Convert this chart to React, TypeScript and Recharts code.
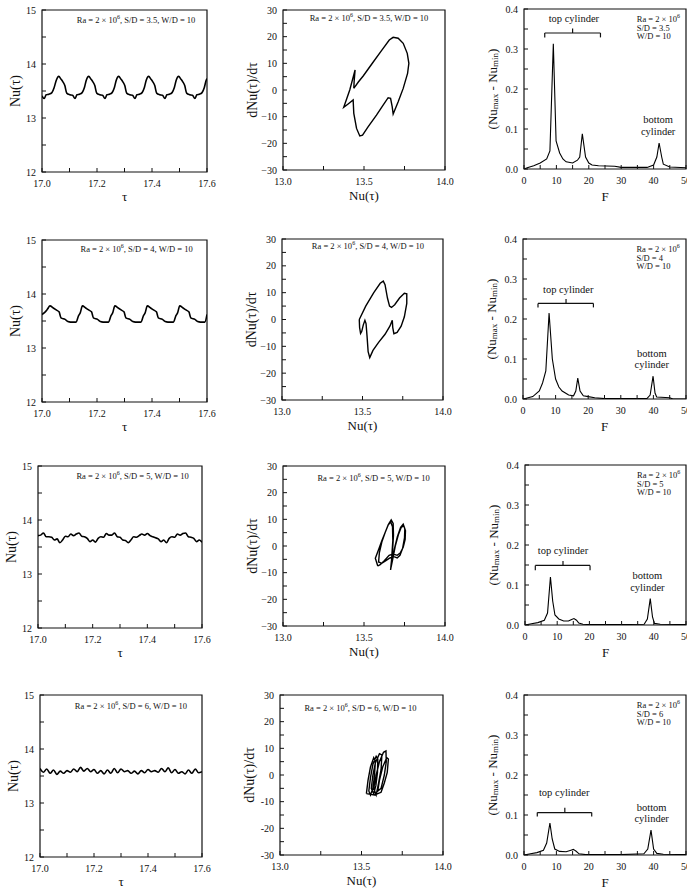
import React from 'react';
import {
  LineChart,
  Line,
  XAxis,
  YAxis,
  ReferenceArea,
  ReferenceLine,
  ReferenceDot,
} from 'recharts';

const FONT = '"Liberation Serif", "DejaVu Serif", serif';
const INK = '#111';

// ---------- axis ticks ----------
const tauTicks = [17.0, 17.1, 17.2, 17.3, 17.4, 17.5, 17.6];
const nuTicks = [12, 12.5, 13, 13.5, 14, 14.5, 15];
const phaseXTicks = [13.0, 13.25, 13.5, 13.75, 14.0];
const phaseYTicks = [-30, -25, -20, -15, -10, -5, 0, 5, 10, 15, 20, 25, 30];
const freqTicks = [0, 5, 10, 15, 20, 25, 30, 35, 40, 45, 50];
const ampTicks = [0, 0.05, 0.1, 0.15, 0.2, 0.25, 0.3, 0.35, 0.4];

// ---------- Nu(tau) time series  [tau, Nu] ----------
const nuSD35 = [
  [17.0, 13.41], [17.008, 13.36], [17.015, 13.43], [17.025, 13.44], [17.036, 13.47], [17.044, 13.56],
  [17.052, 13.7], [17.061, 13.77], [17.069, 13.72], [17.076, 13.67], [17.083, 13.6], [17.09, 13.46],
  [17.101, 13.43], [17.111, 13.42], [17.12, 13.36], [17.127, 13.43], [17.136, 13.44], [17.146, 13.47],
  [17.154, 13.56], [17.161, 13.7], [17.17, 13.77], [17.178, 13.72], [17.185, 13.67], [17.192, 13.6],
  [17.199, 13.46], [17.21, 13.43], [17.22, 13.42], [17.229, 13.36], [17.236, 13.43], [17.245, 13.44],
  [17.255, 13.47], [17.263, 13.56], [17.27, 13.7], [17.279, 13.77], [17.287, 13.72], [17.294, 13.67],
  [17.301, 13.6], [17.308, 13.46], [17.319, 13.43], [17.329, 13.42], [17.338, 13.36], [17.345, 13.43],
  [17.354, 13.44], [17.364, 13.47], [17.372, 13.56], [17.379, 13.7], [17.388, 13.77], [17.396, 13.72],
  [17.403, 13.67], [17.41, 13.6], [17.417, 13.46], [17.428, 13.43], [17.438, 13.42], [17.447, 13.36],
  [17.454, 13.43], [17.463, 13.44], [17.473, 13.47], [17.481, 13.56], [17.488, 13.7], [17.497, 13.77],
  [17.505, 13.72], [17.512, 13.67], [17.519, 13.6], [17.526, 13.46], [17.537, 13.43], [17.547, 13.42],
  [17.556, 13.36], [17.563, 13.43], [17.572, 13.44], [17.582, 13.47], [17.59, 13.56], [17.597, 13.7],
  [17.6, 13.73],
];

const nuSD4 = [
  [17.0, 13.62], [17.01, 13.66], [17.02, 13.72], [17.029, 13.78], [17.041, 13.74], [17.053, 13.7],
  [17.062, 13.67], [17.069, 13.56], [17.084, 13.53], [17.094, 13.49], [17.104, 13.48], [17.124, 13.48],
  [17.133, 13.6], [17.139, 13.65], [17.147, 13.78], [17.159, 13.74], [17.171, 13.7], [17.18, 13.67],
  [17.187, 13.56], [17.202, 13.53], [17.212, 13.49], [17.222, 13.48], [17.242, 13.48], [17.251, 13.6],
  [17.257, 13.65], [17.265, 13.78], [17.277, 13.74], [17.289, 13.7], [17.298, 13.67], [17.305, 13.56],
  [17.32, 13.53], [17.33, 13.49], [17.34, 13.48], [17.36, 13.48], [17.369, 13.6], [17.375, 13.65],
  [17.383, 13.78], [17.395, 13.74], [17.407, 13.7], [17.416, 13.67], [17.423, 13.56], [17.438, 13.53],
  [17.448, 13.49], [17.458, 13.48], [17.478, 13.48], [17.487, 13.6], [17.493, 13.65], [17.501, 13.78],
  [17.513, 13.74], [17.525, 13.7], [17.534, 13.67], [17.541, 13.56], [17.556, 13.53], [17.566, 13.49],
  [17.576, 13.48], [17.592, 13.48], [17.6, 13.62],
];

const nuSD5 = [
  [17.0, 13.71], [17.01, 13.72], [17.02, 13.76], [17.03, 13.69], [17.04, 13.69], [17.05, 13.68],
  [17.06, 13.63], [17.07, 13.65], [17.08, 13.58], [17.09, 13.63], [17.1, 13.7], [17.11, 13.69],
  [17.12, 13.74], [17.13, 13.71], [17.14, 13.74], [17.15, 13.76], [17.16, 13.7], [17.17, 13.69],
  [17.18, 13.66], [17.19, 13.6], [17.2, 13.63], [17.21, 13.59], [17.22, 13.66], [17.23, 13.69],
  [17.24, 13.68], [17.25, 13.75], [17.26, 13.72], [17.27, 13.72], [17.28, 13.76], [17.29, 13.69],
  [17.3, 13.68], [17.31, 13.63], [17.32, 13.62], [17.33, 13.58], [17.34, 13.63], [17.35, 13.69],
  [17.36, 13.68], [17.37, 13.71], [17.38, 13.74], [17.39, 13.72], [17.4, 13.75], [17.41, 13.71],
  [17.42, 13.69], [17.43, 13.67], [17.44, 13.65], [17.45, 13.6], [17.46, 13.63], [17.47, 13.58],
  [17.48, 13.66], [17.49, 13.69], [17.5, 13.68], [17.51, 13.74], [17.52, 13.72], [17.53, 13.75],
  [17.54, 13.76], [17.55, 13.69], [17.56, 13.68], [17.57, 13.66], [17.58, 13.6], [17.59, 13.63],
  [17.6, 13.59],
];

const nuSD6 = [
  [17.0, 13.64], [17.0125, 13.57], [17.025, 13.63], [17.0375, 13.55], [17.05, 13.61], [17.0625, 13.53],
  [17.075, 13.59], [17.0875, 13.55], [17.1, 13.6], [17.1125, 13.57], [17.125, 13.63], [17.1375, 13.58],
  [17.15, 13.66], [17.1625, 13.59], [17.175, 13.64], [17.1875, 13.58], [17.2, 13.62], [17.2125, 13.55],
  [17.225, 13.6], [17.2375, 13.54], [17.25, 13.61], [17.2625, 13.55], [17.275, 13.64], [17.2875, 13.56],
  [17.3, 13.63], [17.3125, 13.58], [17.325, 13.6], [17.3375, 13.55], [17.35, 13.59], [17.3625, 13.54],
  [17.375, 13.6], [17.3875, 13.56], [17.4, 13.62], [17.4125, 13.58], [17.425, 13.6], [17.4375, 13.57],
  [17.45, 13.64], [17.4625, 13.58], [17.475, 13.65], [17.4875, 13.56], [17.5, 13.62], [17.5125, 13.55],
  [17.525, 13.58], [17.5375, 13.54], [17.55, 13.61], [17.5625, 13.55], [17.575, 13.63], [17.5875, 13.56],
  [17.6, 13.58],
];

// ---------- phase portraits  [Nu, dNu/dtau] ----------
const phaseSD35 = [
  [13.437, 0.6], [13.465, 3], [13.495, 5.25], [13.557, 10.5], [13.608, 14.75], [13.656, 18.75],
  [13.68, 19.75], [13.711, 19.4], [13.742, 17.5], [13.767, 13.75], [13.777, 10], [13.769, 6.25],
  [13.742, 0.6], [13.711, -4.4], [13.68, -9], [13.674, -6.25], [13.664, -3.1], [13.649, -2.9],
  [13.619, -5.6], [13.577, -9.4], [13.526, -13.75], [13.491, -16.9], [13.474, -17.25], [13.454, -14.4],
  [13.437, -8.75], [13.433, -3.75], [13.402, -5.25], [13.375, -6.5], [13.412, 0], [13.445, 7.5],
  [13.439, 3.1], [13.437, 0.6],
];

const phaseSD4 = [
  [13.48, 0], [13.52, 5], [13.57, 10], [13.61, 13.5], [13.629, 14.3], [13.64, 13], [13.655, 8],
  [13.668, 5], [13.68, 4.5], [13.7, 5.5], [13.73, 8], [13.76, 9.8], [13.775, 9.6], [13.775, 6],
  [13.76, 1], [13.74, -2.5], [13.715, -4.8], [13.695, -5.3], [13.688, -3], [13.685, -0.3],
  [13.67, -2.5], [13.64, -5.5], [13.6, -8.5], [13.565, -11.5], [13.545, -14.2], [13.535, -12],
  [13.528, -6], [13.522, -1.5], [13.515, -0.3], [13.505, -2], [13.495, -4.5], [13.488, -5.2],
  [13.482, -3], [13.48, 0],
];

const phaseSD5 = [
  [13.585, -7.5], [13.57, -4.6], [13.592, -1], [13.61, 2], [13.63, 5], [13.65, 8], [13.668, 9.8],
  [13.68, 8.5], [13.682, 4], [13.676, -2], [13.668, -6.5], [13.664, -9], [13.672, -6], [13.688, -1],
  [13.706, 3.5], [13.726, 7], [13.742, 8.2], [13.752, 6.5], [13.75, 3], [13.738, -1], [13.722, -3.5],
  [13.705, -4.5], [13.685, -4], [13.66, -4.5], [13.635, -5.5], [13.61, -6.5], [13.59, -6],
  [13.595, -2.5], [13.61, 1.5], [13.63, 5], [13.65, 8], [13.665, 9], [13.676, 7.2], [13.678, 2],
  [13.672, -3.5], [13.667, -8], [13.677, -5], [13.693, 0], [13.712, 4.2], [13.73, 7], [13.745, 7.6],
  [13.756, 5.8], [13.754, 2.5], [13.742, -0.5], [13.725, -2.5], [13.705, -3.5], [13.68, -3],
  [13.655, -3.5], [13.625, -5.5], [13.6, -7], [13.585, -7.5],
];

const phaseSD6 = [
  [13.53, -7], [13.54, -2], [13.555, 3], [13.575, 6.5], [13.585, 5], [13.58, 0], [13.57, -5], [13.555, -7.5],
  [13.545, -6], [13.555, -1], [13.57, 4], [13.59, 7], [13.6, 6], [13.598, 1], [13.588, -4], [13.575, -7],
  [13.56, -5], [13.57, 0], [13.585, 4.5], [13.61, 8], [13.625, 7.5], [13.62, 2], [13.605, -3], [13.59, -7.5],
  [13.575, -5], [13.59, 0], [13.61, 5], [13.635, 8.5], [13.65, 9], [13.652, 5], [13.64, 0], [13.62, -5],
  [13.6, -6], [13.61, -2], [13.63, 3], [13.655, 6.5], [13.665, 6], [13.658, 1], [13.64, -3], [13.62, -6.5],
  [13.58, -7.5], [13.53, -7],
];

// ---------- amplitude spectra  [F, Numax - Numin] ----------
const specSD35 = [
  [0, 0], [1, 0.003], [3, 0.008], [5, 0.015], [7, 0.025], [8, 0.045], [9.05, 0.313], [9.9, 0.07],
  [11, 0.04], [12, 0.025], [13, 0.018], [15, 0.015], [16.5, 0.022], [17.2, 0.03], [18, 0.088],
  [19, 0.03], [20, 0.015], [21, 0.01], [23, 0.008], [28, 0.007], [30, 0.004], [38, 0.004],
  [40, 0.01], [41, 0.03], [41.7, 0.065], [42.5, 0.03], [43, 0.012], [45, 0.005], [50, 0.003],
];

const specSD4 = [
  [0, 0], [1, 0.002], [3, 0.006], [5, 0.02], [6, 0.04], [7, 0.07], [8, 0.215], [9, 0.1], [10, 0.05],
  [11, 0.03], [12, 0.02], [14, 0.01], [15.5, 0.008], [16.2, 0.02], [16.8, 0.052], [17.5, 0.02],
  [18.5, 0.008], [20, 0.006], [22, 0.003], [25, 0.001], [30, 0.001], [38, 0.001], [39, 0.01],
  [39.9, 0.057], [40.5, 0.015], [41, 0.005], [45, 0.003], [46, 0.0], [50, 0.0],
];

const specSD5 = [
  [0, 0], [2, 0.003], [4, 0.006], [6, 0.012], [7, 0.03], [7.9, 0.12], [8.6, 0.06], [9.3, 0.025],
  [10.5, 0.015], [12, 0.01], [13.5, 0.01], [14.5, 0.014], [15.2, 0.016], [16, 0.012], [16.7, 0.005],
  [18, 0.002], [20, 0.001], [30, 0.001], [37, 0.002], [38, 0.015], [38.9, 0.066], [39.6, 0.02],
  [40.2, 0.004], [42, 0.002], [50, 0.001],
];

const specSD6 = [
  [0, 0], [2, 0.003], [4, 0.006], [6, 0.012], [7, 0.03], [8, 0.08], [8.7, 0.04], [9.5, 0.015],
  [11, 0.009], [13, 0.008], [14.5, 0.012], [15.2, 0.014], [16, 0.01], [17, 0.003], [19, 0.001],
  [30, 0.001], [37, 0.003], [38.2, 0.015], [39.2, 0.062], [40, 0.015], [41, 0.004], [43, 0.002],
  [50, 0.001],
];

const sdValues = ['3.5', '4', '5', '6'];

// brace and text anchors in data units of the spectrum panels
const braces = [
  { from: 6.4, to: 23.6, mid: 15.0, y: 0.34, foot: 0.329, tip: 0.351, textX: 15.4, textY: 0.376, botX: 41.4, botY: 0.125 },
  { from: 4.6, to: 21.6, mid: 13.2, y: 0.239, foot: 0.229, tip: 0.25, textX: 13.9, textY: 0.275, botX: 39.5, botY: 0.116 },
  { from: 3.2, to: 20.2, mid: 11.8, y: 0.149, foot: 0.137, tip: 0.16, textX: 11.8, textY: 0.186, botX: 38.0, botY: 0.124 },
  { from: 4.1, to: 20.9, mid: 12.6, y: 0.106, foot: 0.096, tip: 0.118, textX: 12.4, textY: 0.157, botX: 39.4, botY: 0.121 },
];

const toPts = (arr: number[][]) => arr.map(([x, y]) => ({ x, y }));

const YW = 46;
const MT = 6;
const MR = 22;
const XH = 38;

type PanelProps = {
  box: [number, number, number, number];
  data: number[][];
  xDomain: [number, number];
  yDomain: [number, number];
  xTicks: number[];
  yTicks: number[];
  xFmt: (v: number) => string;
  yFmt: (v: number) => string;
  xTitle: React.ReactNode;
  yTitle: React.ReactNode;
  xTitleOffset: number;
  yTitleOffset: number;
  titleSize: number;
  curve: 'monotone' | 'linear';
  strokeWidth: number;
  children?: React.ReactNode;
};

const Panel: React.FC<PanelProps> = (p) => {
  const [x0, y0, x1, y1] = p.box;
  const pw = x1 - x0;
  const ph = y1 - y0;
  const W = YW + pw + MR;
  const H = MT + ph + XH;

  const xTick = (t: any) => (
    <g>
      <line x1={t.x} x2={t.x} y1={t.y} y2={t.y - 4} stroke={INK} strokeWidth={1} />
      {t.index % 2 === 0 && (
        <text x={t.x} y={t.y + 15} textAnchor="middle" fontSize={10} fontFamily={FONT} fill={INK}>
          {p.xFmt(t.payload.value)}
        </text>
      )}
    </g>
  );
  const yTick = (t: any) => (
    <g>
      <line x1={t.x} x2={t.x + 4} y1={t.y} y2={t.y} stroke={INK} strokeWidth={1} />
      {t.index % 2 === 0 && (
        <text x={t.x - 6} y={t.y + 3.5} textAnchor="end" fontSize={10} fontFamily={FONT} fill={INK}>
          {p.yFmt(t.payload.value)}
        </text>
      )}
    </g>
  );

  const cx = YW - p.yTitleOffset;
  const cy = MT + ph / 2;

  return (
    <div style={{ position: 'absolute', left: x0 - YW, top: y0 - MT, width: W, height: H }}>
      <LineChart width={W} height={H} margin={{ top: MT, right: MR, left: 0, bottom: 0 }} data={toPts(p.data)}>
        <XAxis
          type="number"
          dataKey="x"
          domain={p.xDomain}
          ticks={p.xTicks}
          interval={0}
          allowDataOverflow
          axisLine={false}
          tickLine={false}
          tickSize={0}
          tickMargin={0}
          height={XH}
          tick={xTick}
          label={{
            content: () => (
              <text x={YW + pw / 2} y={MT + ph + p.xTitleOffset} textAnchor="middle" dominantBaseline="central"
                fontSize={13} fontFamily={FONT} fill={INK}>
                {p.xTitle}
              </text>
            ),
          }}
        />
        <YAxis
          type="number"
          domain={p.yDomain}
          ticks={p.yTicks}
          interval={0}
          allowDataOverflow
          axisLine={false}
          tickLine={false}
          tickSize={0}
          tickMargin={0}
          width={YW}
          tick={yTick}
          label={{
            content: () => (
              <text x={cx} y={cy} transform={`rotate(-90 ${cx} ${cy})`} textAnchor="middle" dominantBaseline="central"
                fontSize={p.titleSize} fontFamily={FONT} fill={INK}>
                {p.yTitle}
              </text>
            ),
          }}
        />
        <ReferenceArea
          x1={p.xDomain[0]}
          x2={p.xDomain[1]}
          y1={p.yDomain[0]}
          y2={p.yDomain[1]}
          fill="none"
          fillOpacity={0}
          stroke={INK}
          strokeWidth={1.2}
          ifOverflow="visible"
        />
        <Line
          dataKey="y"
          type={p.curve}
          stroke="#000"
          strokeWidth={p.strokeWidth}
          dot={false}
          activeDot={false}
          isAnimationActive={false}
        />
        {p.children}
      </LineChart>
    </div>
  );
};

const RaLine: React.FC<{ cx: number; cy: number; sd: string }> = ({ cx, cy, sd }) => (
  <text x={cx} y={cy} textAnchor="middle" dominantBaseline="central" fontSize={8.5} fontFamily={FONT} fill={INK}>
    Ra = 2 × 10<tspan dy={-3} fontSize={6}>6</tspan>
    <tspan dy={3}>, S/D = {sd}, W/D = 10</tspan>
  </text>
);

const RaBlock: React.FC<{ cx: number; cy: number; sd: string }> = ({ cx, cy, sd }) => (
  <text x={cx} y={cy} fontSize={8.5} fontFamily={FONT} fill={INK} dominantBaseline="central">
    <tspan x={cx}>Ra = 2 × 10</tspan>
    <tspan dy={-3} fontSize={6}>6</tspan>
    <tspan x={cx} dy={11.5}>S/D = {sd}</tspan>
    <tspan x={cx} dy={8.5}>W/D = 10</tspan>
  </text>
);

const tauFmt = (v: number) => v.toFixed(1);
const intFmt = (v: number) => String(v);
const minusFmt = (v: number) => (v < 0 ? '\u2212' + Math.abs(v) : String(v));
const hyphenFmt = (v: number) => String(v);
const oneDec = (v: number) => v.toFixed(1);

const ampTitle = (
  <>
    (Nu<tspan dy={3} fontSize={9}>max</tspan>
    <tspan dy={-3}> - Nu</tspan>
    <tspan dy={3} fontSize={9}>min</tspan>
    <tspan dy={-3}>)</tspan>
  </>
);

const leftBoxes: [number, number, number, number][] = [
  [42, 10, 207, 172],
  [42, 240, 207, 402],
  [38, 466, 202, 628],
  [40, 695, 202, 857],
];
const midBoxes: [number, number, number, number][] = [
  [283, 10, 445, 170],
  [282, 239, 443, 400],
  [283, 466, 445, 626],
  [280, 695, 443, 855],
];
const rightBoxes: [number, number, number, number][] = [
  [524, 9, 686, 169],
  [523, 239, 686, 399],
  [525, 465, 686, 625],
  [524, 695, 686, 855],
];

const nuSeries = [nuSD35, nuSD4, nuSD5, nuSD6];
const phaseSeries = [phaseSD35, phaseSD4, phaseSD5, phaseSD6];
const specSeries = [specSD35, specSD4, specSD5, specSD6];
const leftTextAt = [[17.342, 14.815], [17.344, 14.83], [17.346, 14.815], [17.337, 14.8]];
const midTextAt = [[13.531, 27], [13.534, 27.4], [13.559, 25.6], [13.494, 25.2]];

const App: React.FC = () => {
  return (
    <div
      style={{
        position: 'absolute',
        left: 0,
        top: 0,
        width: 687,
        height: 888,
        overflow: 'hidden',
        background: '#fff',
        fontFamily: FONT,
      }}
    >
      {sdValues.map((sd, i) => (
        <React.Fragment key={sd}>
          <Panel
            box={leftBoxes[i]}
            data={nuSeries[i]}
            xDomain={[17, 17.6]}
            yDomain={[12, 15]}
            xTicks={tauTicks}
            yTicks={nuTicks}
            xFmt={tauFmt}
            yFmt={intFmt}
            xTitle="τ"
            yTitle="Nu(τ)"
            xTitleOffset={24.5}
            yTitleOffset={27}
            titleSize={14}
            curve="monotone"
            strokeWidth={1.6}
          >
            <ReferenceDot
              x={leftTextAt[i][0]}
              y={leftTextAt[i][1]}
              r={0}
              ifOverflow="visible"
              shape={(s: any) => <RaLine cx={s.cx} cy={s.cy} sd={sd} />}
            />
          </Panel>
          <Panel
            box={midBoxes[i]}
            data={phaseSeries[i]}
            xDomain={[13, 14]}
            yDomain={[-30, 30]}
            xTicks={phaseXTicks}
            yTicks={phaseYTicks}
            xFmt={oneDec}
            yFmt={i === 3 ? hyphenFmt : minusFmt}
            xTitle="Nu(τ)"
            yTitle="dNu(τ)/dτ"
            xTitleOffset={25}
            yTitleOffset={31}
            titleSize={14}
            curve="linear"
            strokeWidth={1.4}
          >
            <ReferenceDot
              x={midTextAt[i][0]}
              y={midTextAt[i][1]}
              r={0}
              ifOverflow="visible"
              shape={(s: any) => <RaLine cx={s.cx} cy={s.cy} sd={sd} />}
            />
          </Panel>
          <Panel
            box={rightBoxes[i]}
            data={specSeries[i]}
            xDomain={[0, 50]}
            yDomain={[0, 0.4]}
            xTicks={freqTicks}
            yTicks={ampTicks}
            xFmt={intFmt}
            yFmt={oneDec}
            xTitle="F"
            yTitle={ampTitle}
            xTitleOffset={27}
            yTitleOffset={32}
            titleSize={13}
            curve="linear"
            strokeWidth={1.1}
          >
            <ReferenceLine
              segment={[{ x: braces[i].from, y: braces[i].y }, { x: braces[i].to, y: braces[i].y }]}
              stroke={INK}
              strokeWidth={1.2}
              ifOverflow="visible"
            />
            <ReferenceLine
              segment={[{ x: braces[i].from, y: braces[i].y }, { x: braces[i].from, y: braces[i].foot }]}
              stroke={INK}
              strokeWidth={1.2}
              ifOverflow="visible"
            />
            <ReferenceLine
              segment={[{ x: braces[i].to, y: braces[i].y }, { x: braces[i].to, y: braces[i].foot }]}
              stroke={INK}
              strokeWidth={1.2}
              ifOverflow="visible"
            />
            <ReferenceLine
              segment={[{ x: braces[i].mid, y: braces[i].y }, { x: braces[i].mid, y: braces[i].tip }]}
              stroke={INK}
              strokeWidth={1.2}
              ifOverflow="visible"
            />
            <ReferenceDot
              x={braces[i].textX}
              y={braces[i].textY}
              r={0}
              ifOverflow="visible"
              shape={(s: any) => (
                <text x={s.cx} y={s.cy} textAnchor="middle" dominantBaseline="central" fontSize={10.5}
                  fontFamily={FONT} fill={INK}>
                  top cylinder
                </text>
              )}
            />
            <ReferenceDot
              x={braces[i].botX}
              y={braces[i].botY}
              r={0}
              ifOverflow="visible"
              shape={(s: any) => (
                <text x={s.cx} y={s.cy} textAnchor="middle" dominantBaseline="central" fontSize={10.5}
                  fontFamily={FONT} fill={INK}>
                  <tspan x={s.cx}>bottom</tspan>
                  <tspan x={s.cx} dy={11.5}>cylinder</tspan>
                </text>
              )}
            />
            <ReferenceDot
              x={34.8}
              y={0.4 - 10 / 400}
              r={0}
              ifOverflow="visible"
              shape={(s: any) => <RaBlock cx={s.cx} cy={s.cy} sd={sd} />}
            />
          </Panel>
        </React.Fragment>
      ))}
    </div>
  );
};

export default App;
